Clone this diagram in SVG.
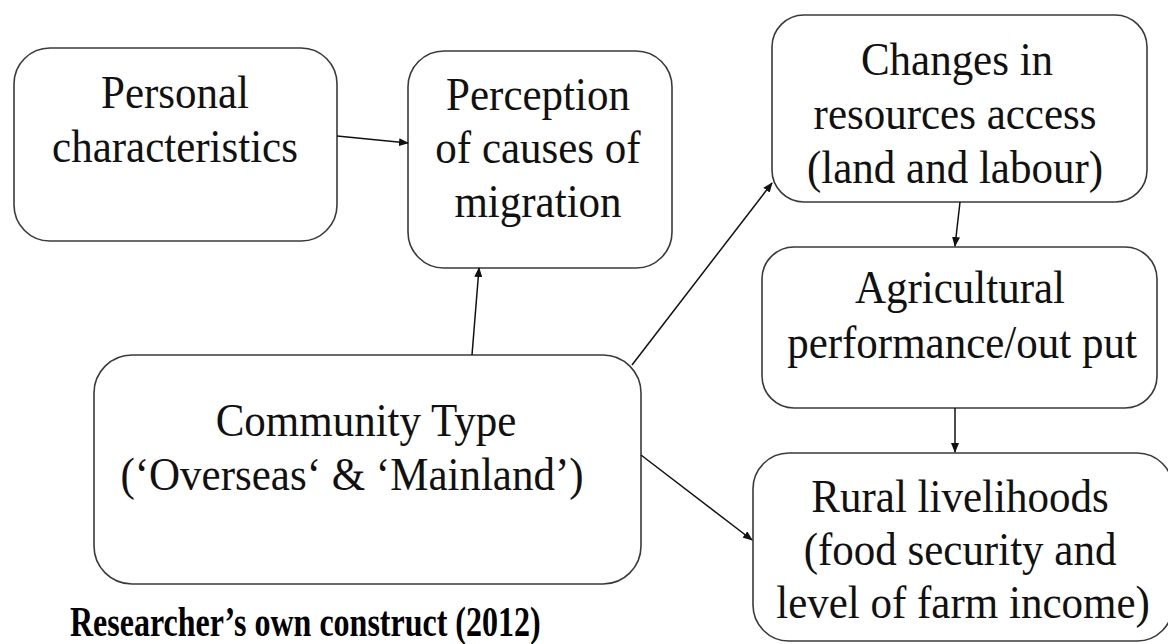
<svg xmlns="http://www.w3.org/2000/svg" width="1168" height="644" viewBox="0 0 1168 644">
<style>
.box{fill:#fff;stroke:#3a3a3a;stroke-width:1.6}
.c{stroke:#111;stroke-width:1.5;fill:none;marker-end:url(#ah)}
</style>
<defs>
<marker id="ah" markerWidth="10" markerHeight="8" refX="9" refY="4" orient="auto" markerUnits="userSpaceOnUse">
<path d="M0,0 L10,4 L0,8 Z" fill="#111"/>
</marker>
</defs>
<rect width="1168" height="644" fill="#fff"/>
<g font-family="Liberation Serif" font-size="43" fill="#111" text-anchor="middle">
<g id="personal">
<rect class="box" x="14" y="48" width="323" height="193" rx="36"/>
<text transform="translate(175,108) scale(1,1.1)">Personal</text>
<text transform="translate(175,162) scale(1,1.1)">characteristics</text>
</g>
<g id="perception">
<rect class="box" x="408" y="51" width="264" height="217" rx="36"/>
<text transform="translate(538,110) scale(1,1.1)">Perception</text>
<text transform="translate(538,163) scale(1,1.1)">of causes of</text>
<text transform="translate(538,217) scale(1,1.1)">migration</text>
</g>
<g id="changes">
<rect class="box" x="772" y="15" width="375" height="187" rx="32"/>
<text transform="translate(957,75) scale(1,1.1)">Changes in</text>
<text transform="translate(955,129) scale(1,1.1)">resources access</text>
<text transform="translate(955,183) scale(1,1.1)">(land and labour)</text>
</g>
<g id="agricultural">
<rect class="box" x="762" y="247" width="395" height="161" rx="32"/>
<text transform="translate(960,303) scale(1,1.1)">Agricultural</text>
<text transform="translate(962,358) scale(1,1.1)">performance/out put</text>
</g>
<g id="rural">
<rect class="box" x="753" y="453" width="420" height="188" rx="36"/>
<text transform="translate(960,512) scale(1,1.1)">Rural livelihoods</text>
<text transform="translate(960,565) scale(1,1.1)">(food security and</text>
<text transform="translate(963,618) scale(1,1.1)">level of farm income)</text>
</g>
<g id="community">
<rect class="box" x="94" y="355" width="547" height="229" rx="38"/>
<text transform="translate(366,436) scale(1,1.1)">Community Type</text>
<text transform="translate(352,490) scale(1,1.1)">(‘Overseas‘ &amp; ‘Mainland’)</text>
</g>
</g>
<g id="caption">
<text transform="translate(70,636) scale(1,1.3)" font-family="Liberation Serif" font-size="32" font-weight="bold" fill="#000">Researcher’s own construct (2012)</text>
</g>
<g id="connectors">
<line class="c" x1="337" y1="136" x2="408" y2="143"/>
<line class="c" x1="472" y1="355" x2="479" y2="268"/>
<line class="c" x1="632" y1="365" x2="772" y2="183"/>
<line class="c" x1="960" y1="202" x2="955" y2="246"/>
<line class="c" x1="955" y1="408" x2="955" y2="452"/>
<line class="c" x1="641" y1="455" x2="752" y2="540"/>
</g>
</svg>
